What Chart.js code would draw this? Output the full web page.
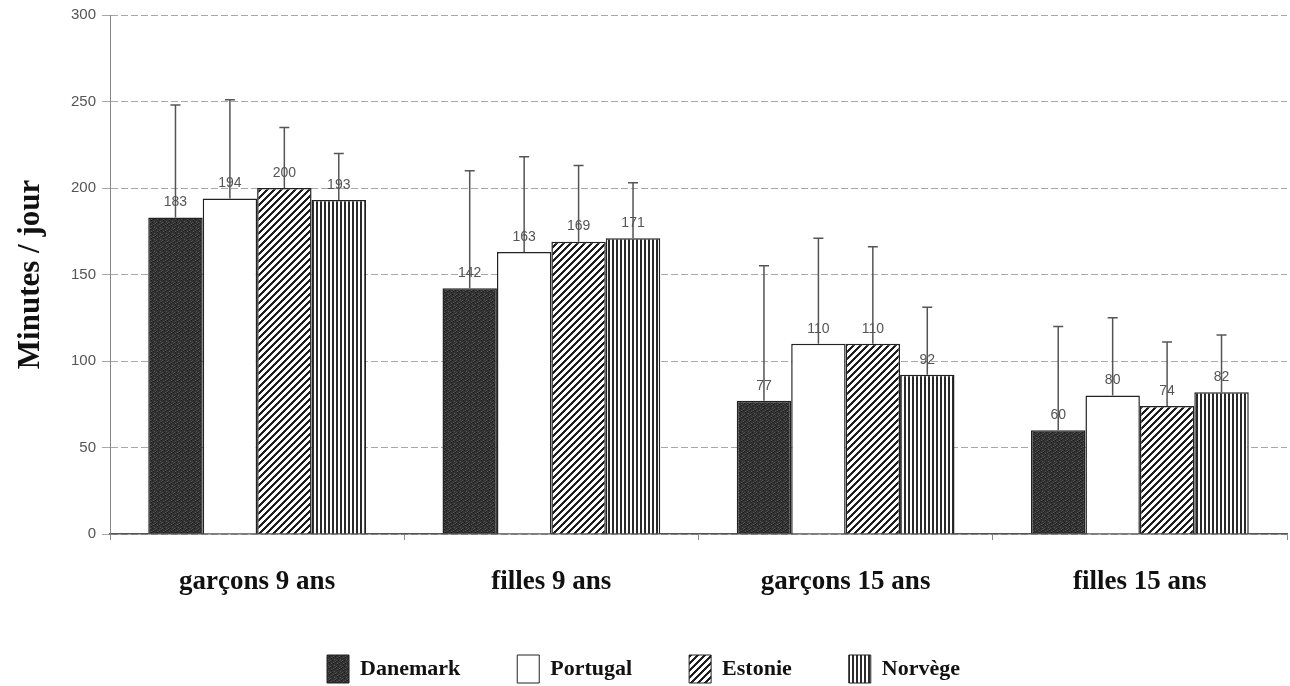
<!DOCTYPE html>
<html>
<head>
<meta charset="utf-8">
<script src="https://cdn.jsdelivr.net/npm/chart.js@4/dist/chart.umd.min.js"></script>
<style>
  html, body { margin: 0; padding: 0; background: #fff; }
  #wrap { width: 1290px; height: 686px; position: relative; }
</style>
</head>
<body>
<div id="wrap"><canvas id="c"></canvas></div>
<script>
const categories = ['garçons 9 ans', 'filles 9 ans', 'garçons 15 ans', 'filles 15 ans']
const countries = ['Danemark', 'Portugal', 'Estonie', 'Norvège']

const danemark = [183, 142, 77, 60]
const portugal = [194, 163, 110, 80]
const estonie = [200, 169, 110, 74]
const norvege = [193, 171, 92, 82]

// upward error bar extent (minutes)
const danemarkErr = [65, 68, 78, 60]
const portugalErr = [57, 55, 61, 45]
const estonieErr = [35, 44, 56, 37]
const norvegeErr = [27, 32, 39, 33]

const yTicks = [0, 50, 100, 150, 200, 250, 300]

function makePattern(w, h, isInk, ink) {
  const cv = document.createElement('canvas')
  cv.width = w
  cv.height = h
  const g = cv.getContext('2d')
  g.fillStyle = '#fff'
  g.fillRect(0, 0, w, h)
  for (let x = 0; x < w; x++) {
    for (let y = 0; y < h; y++) {
      const c = isInk(x, y)
      if (c) {
        g.fillStyle = typeof c === 'string' ? c : ink
        g.fillRect(x, y, 1, 1)
      }
    }
  }
  return g.createPattern(cv, 'repeat')
}

const darkFill = makePattern(6, 6, (x, y) => {
  const k = (x * 5 + y * 3) % 7
  return k === 0 ? '#555' : k === 3 ? '#1c1c1c' : '#333'
}, '#333')
const diagFill = makePattern(7, 7, (x, y) => (x + y) % 7 < 3, '#1e1e1e')
const vertFill = makePattern(4, 4, x => x < 2, '#2a2a2a')

const seriesValues = [danemark, portugal, estonie, norvege]
const seriesErrors = [danemarkErr, portugalErr, estonieErr, norvegeErr]
const seriesFills = [darkFill, '#fff', diagFill, vertFill]

const errorBars = {
  id: 'errorBars',
  afterDatasetsDraw(chart) {
    const { ctx } = chart
    const y = chart.scales.y
    ctx.save()
    chart.data.datasets.forEach((ds, i) => {
      const meta = chart.getDatasetMeta(i)
      meta.data.forEach((bar, j) => {
        const v = ds.data[j]
        const top = y.getPixelForValue(v + seriesErrors[i][j])
        ctx.strokeStyle = '#555'
        ctx.lineWidth = 1.5
        ctx.beginPath()
        ctx.moveTo(bar.x, bar.y)
        ctx.lineTo(bar.x, top)
        ctx.moveTo(bar.x - 5, top)
        ctx.lineTo(bar.x + 5, top)
        ctx.stroke()
        ctx.fillStyle = '#555'
        ctx.font = '14px "Liberation Sans", Arial, sans-serif'
        ctx.textAlign = 'center'
        ctx.textBaseline = 'middle'
        ctx.fillText(String(v), bar.x, bar.y - 15)
      })
    })
    ctx.restore()
  },
}

new Chart(document.getElementById('c'), {
  type: 'bar',
  data: {
    labels: categories,
    datasets: countries.map((name, i) => ({
      label: name,
      data: seriesValues[i],
      backgroundColor: seriesFills[i],
      borderColor: '#222',
      borderWidth: 1.5,
      categoryPercentage: 0.74,
      barPercentage: 1.0,
    })),
  },
  options: {
    responsive: true,
    maintainAspectRatio: false,
    animation: false,
    layout: { padding: { top: 13, right: 3, bottom: -7, left: 0 } },
    plugins: {
      tooltip: { enabled: false },
      legend: {
        position: 'bottom',
        labels: {
          color: '#111',
          font: { family: '"Liberation Serif", "Times New Roman", serif', size: 22, weight: 'bold' },
          boxWidth: 22,
          boxHeight: 28,
          padding: 57,
          generateLabels(chart) {
            return chart.data.datasets.map((ds, i) => ({
              text: ds.label,
              fillStyle: seriesFills[i],
              strokeStyle: '#222',
              lineWidth: 1,
              datasetIndex: i,
              fontColor: '#111',
            }))
          },
        },
      },
    },
    scales: {
      x: {
        afterFit(scale) {
          scale.height = 64
        },
        grid: { display: true, drawOnChartArea: false, tickLength: 6, color: '#888' },
        border: { color: '#555', width: 1.5 },
        ticks: {
          color: '#111',
          padding: 26,
          font: { family: '"Liberation Serif", "Times New Roman", serif', size: 27, weight: 'bold' },
        },
      },
      y: {
        min: 0,
        max: 300,
        afterBuildTicks(scale) {
          scale.ticks = yTicks.map(v => ({ value: v }))
        },
        afterFit(scale) {
          scale.width = 110
        },
        grid: { color: '#a8a8a8', lineWidth: 1, tickLength: 8 },
        border: { color: '#888', width: 1, dash: [7, 3] },
        ticks: {
          color: '#555',
          padding: 6,
          font: { family: '"Liberation Sans", Arial, sans-serif', size: 15 },
        },
        title: {
          display: true,
          text: 'Minutes / jour',
          color: '#111',
          padding: { top: 12, bottom: 0 },
          font: { family: '"Liberation Serif", "Times New Roman", serif', size: 31, weight: 'bold' },
        },
      },
    },
  },
  plugins: [errorBars],
})
</script>
</body>
</html>
